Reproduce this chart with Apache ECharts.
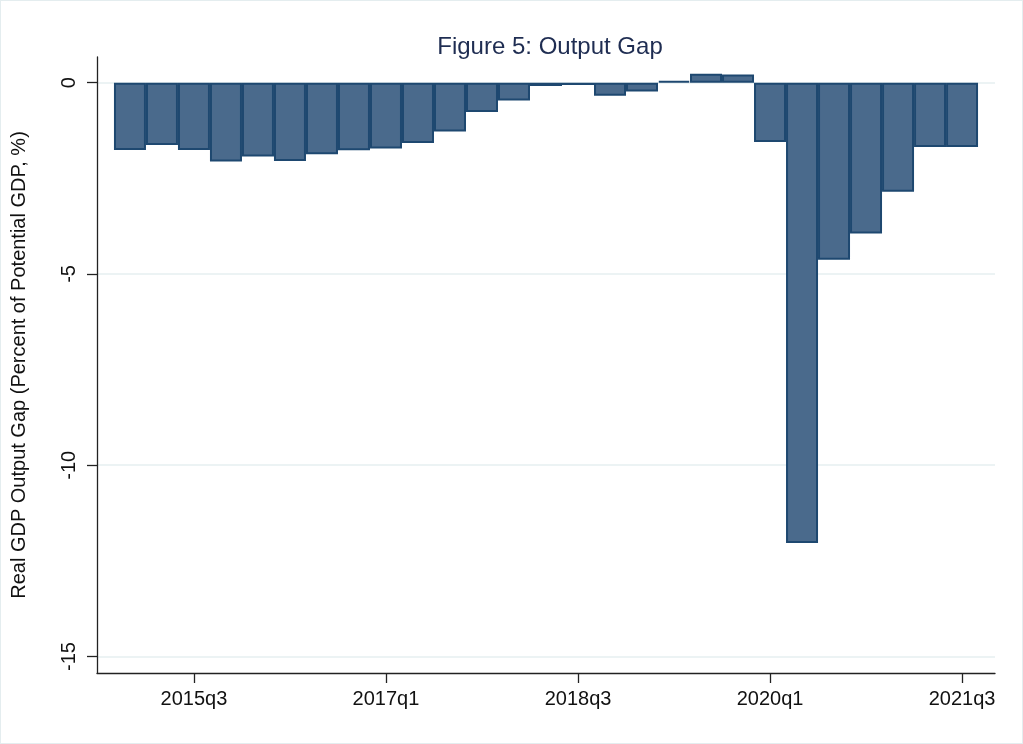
<!DOCTYPE html>
<html>
<head>
<meta charset="utf-8">
<script src="https://cdn.jsdelivr.net/npm/echarts@6/dist/echarts.min.js"></script>
<style>
html,body{margin:0;padding:0;background:#fff;}
#chart{width:1023px;height:744px;box-sizing:border-box;border:1px solid #e4edef;}
</style>
</head>
<body>
<div id="chart"></div>
<script>
const quarters = ['2015q1','2015q2','2015q3','2015q4','2016q1','2016q2','2016q3','2016q4',
  '2017q1','2017q2','2017q3','2017q4','2018q1','2018q2','2018q3','2018q4',
  '2019q1','2019q2','2019q3','2019q4','2020q1','2020q2','2020q3','2020q4',
  '2021q1','2021q2','2021q3'];
const outputGap = [-1.76,-1.63,-1.76,-2.06,-1.93,-2.05,-1.87,-1.77,
  -1.72,-1.58,-1.28,-0.77,-0.47,-0.09,-0.06,-0.34,
  -0.23,0.04,0.235,0.21,-1.55,-12.03,-4.63,-3.94,
  -2.85,-1.68,-1.68];
const xTickLabels = ['2015q3','2017q1','2018q3','2020q1','2021q3'];
const yTickValues = [0,-5,-10,-15];

const xTickPositions = xTickLabels.map(l => quarters.indexOf(l));
const seriesData = outputGap.map((v, i) => [i, v]);
const FONT = "'Liberation Sans', Arial, Helvetica, sans-serif";

const chart = echarts.init(document.getElementById('chart'), null, {renderer: 'canvas'});
chart.setOption({
  animation: false,
  backgroundColor: '#ffffff',
  title: {
    text: 'Figure 5: Output Gap',
    left: 544,
    top: 29,
    textAlign: 'center',
    textStyle: {fontFamily: FONT, fontSize: 24, fontWeight: 'normal', color: '#1f2d52'}
  },
  grid: {left: 95, right: 27, top: 56, bottom: 70, containLabel: false},
  xAxis: {
    type: 'value',
    min: -1.03,
    max: 27.03,
    axisLine: {show: true, onZero: false, lineStyle: {color: '#222', width: 1.3}},
    axisTick: {show: true, length: 10, customValues: xTickPositions, lineStyle: {color: '#222', width: 1.3}},
    axisLabel: {
      customValues: xTickPositions,
      margin: 16,
      fontFamily: FONT, fontSize: 20, color: '#111',
      formatter: v => quarters[Math.round(v)] || ''
    },
    splitLine: {show: false}
  },
  yAxis: {
    type: 'value',
    min: -15.43,
    max: 0.67,
    name: 'Real GDP Output Gap (Percent of Potential GDP, %)',
    nameLocation: 'middle',
    nameGap: 68,
    nameTextStyle: {fontFamily: FONT, fontSize: 20, color: '#111'},
    axisLine: {show: true, onZero: false, lineStyle: {color: '#222', width: 1.3}},
    axisTick: {show: true, length: 10, customValues: yTickValues, lineStyle: {color: '#222', width: 1.3}},
    axisLabel: {
      customValues: yTickValues,
      rotate: 90,
      margin: 18,
      fontFamily: FONT, fontSize: 20, color: '#111',
      formatter: v => String(v)
    },
    splitLine: {show: true, customValues: yTickValues, lineStyle: {color: '#e6eff1', width: 1.6}}
  },
  series: [{
    type: 'bar',
    data: seriesData,
    barWidth: '100%',
    itemStyle: {color: '#4a6a8c', borderColor: '#1e4870', borderWidth: 2},
    z: 3
  }]
});
</script>
</body>
</html>
